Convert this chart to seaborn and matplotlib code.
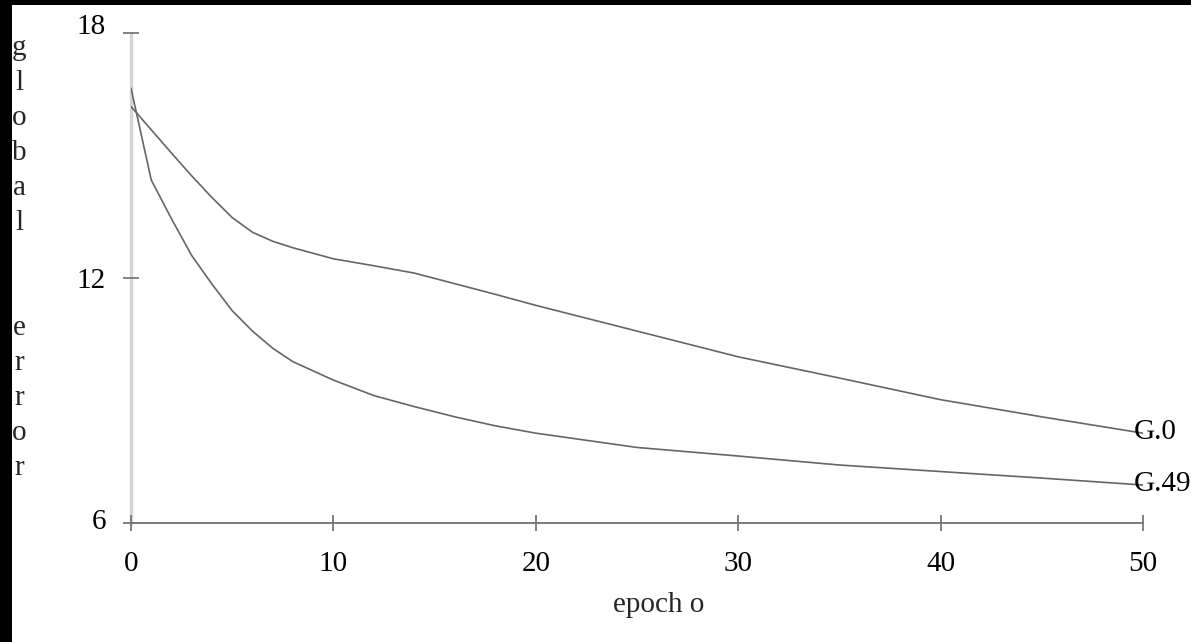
import numpy as np
import pandas as pd
import matplotlib
matplotlib.use("Agg")
import matplotlib.pyplot as plt
from matplotlib.patches import Rectangle
import matplotlib.transforms as mtransforms
import seaborn as sns

# ---- data ----
epochs = [0, 1, 2, 3, 4, 5, 6, 7, 8, 10, 12, 14, 16, 18, 20, 25, 30, 35, 40, 45, 50]
g0 = [16.2, 15.63, 15.06, 14.5, 13.97, 13.48, 13.12, 12.9, 12.74, 12.47, 12.3, 12.12,
      11.86, 11.6, 11.33, 10.7, 10.07, 9.55, 9.02, 8.6, 8.2]
g49 = [16.65, 14.4, 13.45, 12.55, 11.85, 11.2, 10.7, 10.28, 9.95, 9.5, 9.12, 8.85,
       8.6, 8.38, 8.2, 7.85, 7.64, 7.42, 7.26, 7.1, 6.93]
series_names = ["G.0", "G.49"]
x_ticks = [0, 10, 20, 30, 40, 50]
y_ticks = [6, 12, 18]
x_label = "epoch o"
y_label = "global  error"

df = pd.DataFrame({
    "epoch": epochs * 2,
    "error": g0 + g49,
    "series": [series_names[0]] * len(epochs) + [series_names[1]] * len(epochs),
})

sns.set_theme(style="white")
plt.rcParams["font.family"] = ["Liberation Serif", "DejaVu Serif"]

W, H = 1191, 642
fig = plt.figure(figsize=(W / 100, H / 100), dpi=100, facecolor="white")
ax = fig.add_axes([131 / W, 1 - 523 / H, (1143 - 131) / W, (523 - 33) / H])
ax.set_facecolor("white")

sns.lineplot(data=df, x="epoch", y="error", hue="series",
             palette=["#666666", "#666666"], linewidth=1.2, legend=False, ax=ax)

ax.set_xlim(0, 50)
ax.set_ylim(6, 18)
ax.set_xticks(x_ticks)
ax.set_yticks(y_ticks)
ax.set_xticklabels([str(t) for t in x_ticks])
ax.set_yticklabels([str(t) for t in y_ticks])
ax.set_xlabel("")
ax.set_ylabel("")

for s in ["top", "right"]:
    ax.spines[s].set_visible(False)
ax.spines["left"].set_color("#d4d4d4")
ax.spines["left"].set_linewidth(2.4)
ax.spines["bottom"].set_color("#7a7a7a")
ax.spines["bottom"].set_linewidth(1.4)
ax.spines["left"].set_zorder(0)

ax.tick_params(axis="both", which="major", bottom=True, left=True,
               direction="inout", length=12, width=1.3,
               colors="#777777", labelcolor="black", labelsize=21)
ax.tick_params(axis="y", pad=12)
ax.tick_params(axis="x", pad=14)

# the top y label sits a little above its tick in the reference
ylabels = ax.get_yticklabels()
ylabels[-1].set_transform(ylabels[-1].get_transform() +
                          mtransforms.ScaledTranslation(0, 9 / 100, fig.dpi_scale_trans))
ylabels[0].set_transform(ylabels[0].get_transform() +
                         mtransforms.ScaledTranslation(0, 4 / 100, fig.dpi_scale_trans))

# series end labels
for name, vals in zip(series_names, [g0, g49]):
    ax.annotate(name, xy=(epochs[-1], vals[-1]), xytext=(-7, -4),
                textcoords="offset points", ha="left", va="baseline",
                fontsize=21, color="black", annotation_clip=False)

# axis titles
fig.text(659 / W, 1 - 605 / H, x_label, ha="center", va="center", fontsize=21)
fig.text(19 / W, 1 - 258 / H, "\n".join(list(y_label)), ha="center", va="center",
         fontsize=21, linespacing=1.45)

# black scan border (top and left)
fig.patches.append(Rectangle((0, 1 - 5 / H), 1, 5 / H, transform=fig.transFigure,
                             facecolor="black", edgecolor="none", zorder=10))
fig.patches.append(Rectangle((0, 0), 12 / W, 1, transform=fig.transFigure,
                             facecolor="black", edgecolor="none", zorder=10))

fig.savefig("out.png", dpi=100, facecolor="white")
